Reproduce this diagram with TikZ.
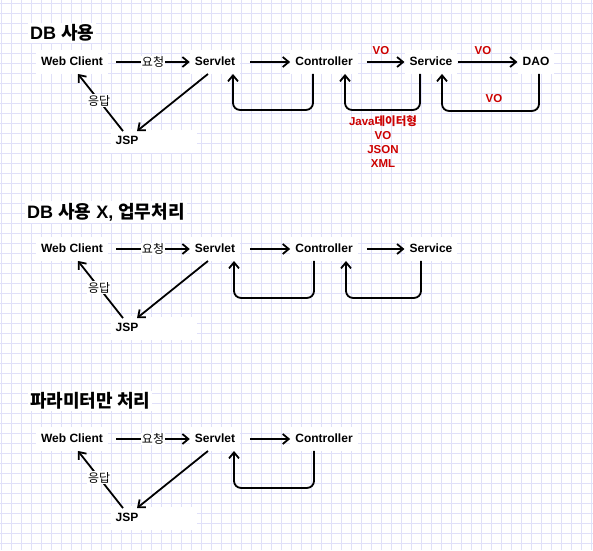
\documentclass[tikz,border=0pt]{standalone}
\usepackage{fontspec}
\setmainfont{Liberation Sans}
\newfontfamily\kr{Noto Sans CJK KR}
\usetikzlibrary{arrows.meta}
\definecolor{gridc}{RGB}{224,224,249}
\definecolor{redc}{RGB}{204,0,0}
\tikzset{
  nd/.style={font=\bfseries\fontsize{12}{14}\selectfont, fill=white, inner xsep=5pt, inner ysep=6pt, text height=9pt, text depth=2.5pt},
  ttl/.style={font=\bfseries\fontsize{18}{21}\selectfont, fill=white, anchor=west, inner sep=2pt},
  kl/.style={font=\kr\fontsize{12}{14}\selectfont, fill=white, inner sep=1pt},
  rlbl/.style={font=\bfseries\fontsize{11.5}{14}\selectfont, text=redc, inner sep=1pt},
  arr/.style={line width=1.8pt, -{Straight Barb[length=6pt,width=10pt]}},
  loopline/.style={arr, rounded corners=7pt},
}
\begin{document}
\begin{tikzpicture}[x=1pt,y=-1pt]
\useasboundingbox (0,0) rectangle (593,550);
\fill[white] (0,0) rectangle (593,550);
\foreach \i in {0,...,59} \draw[gridc, line width=1pt] (10*\i+1,0) -- (10*\i+1,550);
\foreach \i in {0,...,54} \draw[gridc, line width=1pt] (0,10*\i+3) -- (593,10*\i+3);

% ---------- Section 1 ----------
\node[ttl] (t1) at (28,33) {DB {\kr 사용}};
\node[nd] (wc1) at (72,62) {Web Client};
\node[nd] (sv1) at (215,62) {Servlet};
\node[nd] (ct1) at (324,62) {Controller};
\node[nd] (se1) at (431,62) {Service};
\node[nd] (dao1) at (536,62) {DAO};
\fill[white] (113,130) rectangle (197,153);
\node[nd] (jsp1) at (127,141) {JSP};
\node[rlbl] (vo1a) at (381,51) {VO};
\node[rlbl] (vo1b) at (483,51) {VO};
\node[rlbl] (vo1c) at (494,99) {VO};
\node[rlbl, align=center] (types) at (383,142) {Java{\kr\bfseries 데이터형}\\VO\\JSON\\XML};

\draw[arr, shorten <=8pt] (wc1) -- node[kl, pos=0.55]{요청} (sv1);
\draw[arr, shorten <=10pt] (sv1) -- (ct1);
\draw[arr, shorten <=9pt] (ct1) -- (se1);
\draw[arr] (se1) -- (dao1);
\draw[loopline] ([xshift=-11pt]ct1.south) -- ++(0,36) -| ([xshift=18pt]sv1.south);
\draw[loopline] ([xshift=-11pt]se1.south) -- ++(0,36) -| ([xshift=21pt]ct1.south);
\draw[loopline] ([xshift=3pt]dao1.south) -- ++(0,37) -| ([xshift=11pt]se1.south);
\draw[arr] ([xshift=-7pt]sv1.south) -- ([xshift=10pt,yshift=-2pt]jsp1.north);
\draw[arr] ([xshift=-4pt,yshift=-2pt]jsp1.north) -- node[kl, pos=0.53]{응답} ([xshift=6pt]wc1.south);

% ---------- Section 2 ----------
\node[ttl] (t2) at (25,212) {DB {\kr 사용} X, {\kr 업무처리}};
\node[nd] (wc2) at (72,249) {Web Client};
\node[nd] (sv2) at (215,249) {Servlet};
\node[nd] (ct2) at (324,249) {Controller};
\node[nd] (se2) at (431,249) {Service};
\fill[white] (113,317) rectangle (197,340);
\node[nd] (jsp2) at (127,328) {JSP};

\draw[arr, shorten <=8pt] (wc2) -- node[kl, pos=0.55]{요청} (sv2);
\draw[arr, shorten <=10pt] (sv2) -- (ct2);
\draw[arr, shorten <=9pt] (ct2) -- (se2);
\draw[loopline] ([xshift=-10pt]ct2.south) -- ++(0,37) -| ([xshift=19pt]sv2.south);
\draw[loopline] ([xshift=-10pt]se2.south) -- ++(0,37) -| ([xshift=22pt]ct2.south);
\draw[arr] ([xshift=-7pt]sv2.south) -- ([xshift=10pt,yshift=-2pt]jsp2.north);
\draw[arr] ([xshift=-4pt,yshift=-2pt]jsp2.north) -- node[kl, pos=0.53]{응답} ([xshift=6pt]wc2.south);

% ---------- Section 3 ----------
\node[ttl] (t3) at (28,401) {\kr 파라미터만 처리};
\node[nd] (wc3) at (72,439) {Web Client};
\node[nd] (sv3) at (215,439) {Servlet};
\node[nd] (ct3) at (324,439) {Controller};
\fill[white] (113,507) rectangle (197,530);
\node[nd] (jsp3) at (127,518) {JSP};

\draw[arr, shorten <=8pt] (wc3) -- node[kl, pos=0.55]{요청} (sv3);
\draw[arr, shorten <=10pt] (sv3) -- (ct3);
\draw[loopline] ([xshift=-10pt]ct3.south) -- ++(0,37) -| ([xshift=19pt]sv3.south);
\draw[arr] ([xshift=-7pt]sv3.south) -- ([xshift=10pt,yshift=-2pt]jsp3.north);
\draw[arr] ([xshift=-4pt,yshift=-2pt]jsp3.north) -- node[kl, pos=0.53]{응답} ([xshift=6pt]wc3.south);
\end{tikzpicture}
\end{document}
